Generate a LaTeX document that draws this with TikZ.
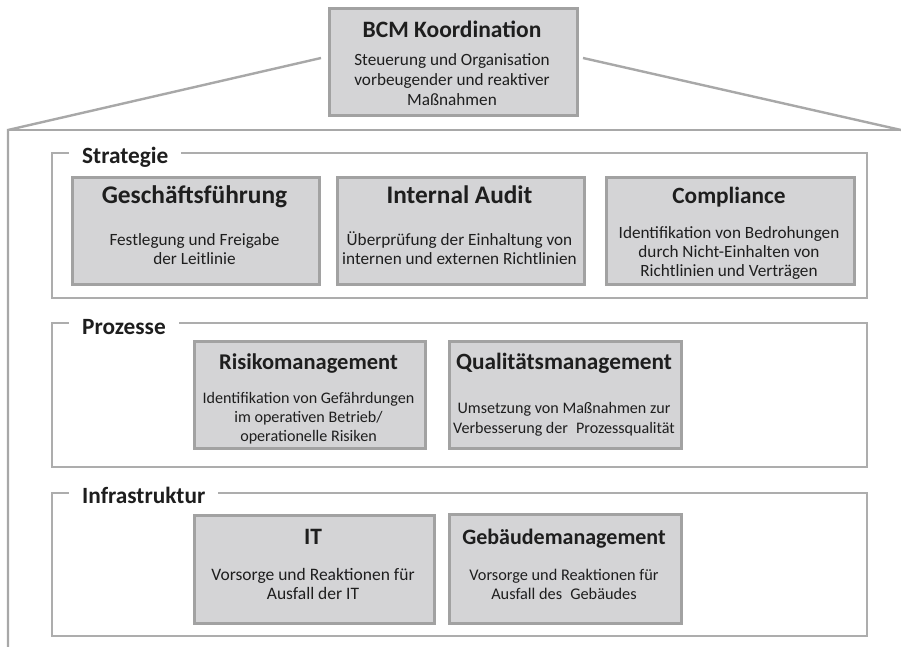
\documentclass[tikz,border=0pt]{standalone}
\usepackage{fontspec}
\setmainfont{Carlito}
\definecolor{boxfill}{HTML}{D4D4D6}
\definecolor{boxline}{HTML}{A2A2A2}
\definecolor{panelline}{HTML}{ADADAD}
\definecolor{houseline}{HTML}{A8A8A8}
\definecolor{txt}{HTML}{1E1E1E}
\newcommand{\tsz}[1]{\fontsize{#1}{29}\selectfont\bfseries}
\newcommand{\bsz}[2]{\fontsize{#1}{#2}\selectfont}
\begin{document}
\begin{tikzpicture}[x=1pt,y=-1pt,
  card/.style={draw=boxline, line width=2.6pt, fill=boxfill, inner sep=0pt, anchor=north west},
  panel/.style={draw=panelline, line width=2.2pt},
  house/.style={draw=houseline, line width=2.4pt},
  ttl/.style={font=\tsz{25}, text=txt, inner sep=0pt, anchor=base},
  body/.style={font=\bsz{17.2}{19}, text=txt, inner sep=0pt, anchor=base, align=center},
  plabel/.style={font=\tsz{23.3}, text=txt, fill=white, inner xsep=13pt, inner ysep=2pt, anchor=base west}
]
\useasboundingbox (0,0) rectangle (901,647);
\fill[white] (0,0) rectangle (901,647);

% house outline
\coordinate (hl) at (8,130);
\coordinate (hr) at (901,130);
\coordinate (hb) at (8,647);
\coordinate (dl) at (321,58);
\coordinate (dr) at (583,58);
\draw[house] (dl) -- (hl) -- (hb);
\draw[house] (hl) -- (hr);
\draw[house] (dr) -- (hr);

% top box
\node[card, minimum width=248pt, minimum height=107pt] (bcm) at (328,7) {};
\node[ttl, font=\tsz{23.5}] (bcmt) at (452,38) {BCM Koordination};
\node[body, font=\bsz{17.2}{20}] (bcmb) at (452,106) {Steuerung und Organisation\\vorbeugender und reaktiver\\Maßnahmen};

% panels
\draw[panel] (52,153) rectangle (867,298);
\draw[panel] (52,323) rectangle (867,467);
\draw[panel] (52,493) rectangle (867,636);
\node[plabel] (pstrat) at (69,164) {Strategie};
\node[plabel] (pproz) at (69,334) {Prozesse};
\node[plabel] (pinfra) at (69,503) {Infrastruktur};

% Strategie
\node[card, minimum width=247pt, minimum height=107pt] (gf) at (71,176) {};
\node[ttl, font=\tsz{25.4}] (gft) at (194.5,203) {Geschäftsführung};
\node[body] (gfb) at (194.5,264) {Festlegung und Freigabe\\der Leitlinie};

\node[card, minimum width=247pt, minimum height=107pt] (ia) at (336,176) {};
\node[ttl, font=\tsz{25.3}] (iat) at (459.5,203) {Internal Audit};
\node[body] (iab) at (459.5,264) {Überprüfung der Einhaltung von\\internen und externen Richtlinien};

\node[card, minimum width=248pt, minimum height=107pt] (co) at (605,176) {};
\node[ttl, font=\tsz{23.3}] (cot) at (729,203) {Compliance};
\node[body] (cob) at (729,276) {Identifikation von Bedrohungen\\durch Nicht-Einhalten von\\Richtlinien und Verträgen};

% Prozesse
\node[card, minimum width=231pt, minimum height=107pt] (rm) at (193,340) {};
\node[ttl, font=\tsz{22.5}] (rmt) at (308.5,369) {Risikomanagement};
\node[body, font=\bsz{16.1}{19}] (rmb) at (308.5,441) {Identifikation von Gefährdungen\\im operativen Betrieb/\\operationelle Risiken};

\node[card, minimum width=232pt, minimum height=107pt] (qm) at (448,340) {};
\node[ttl, font=\tsz{23.3}] (qmt) at (564,369) {Qualitätsmanagement};
\node[body, font=\bsz{16.1}{20}] (qmb) at (564,433) {Umsetzung von Maßnahmen zur\\Verbesserung der\enspace Prozessqualität};

% Infrastruktur
\node[card, minimum width=240pt, minimum height=108pt] (it) at (193,514) {};
\node[ttl, font=\tsz{23.5}] (itt) at (313,544) {IT};
\node[body, font=\bsz{17.5}{19}] (itb) at (313,599) {Vorsorge und Reaktionen für\\Ausfall der IT};

\node[card, minimum width=232pt, minimum height=109pt] (gm) at (448,513) {};
\node[ttl, font=\tsz{22}] (gmt) at (564,544) {Gebäudemanagement};
\node[body, font=\bsz{16.3}{19}] (gmb) at (564,599) {Vorsorge und Reaktionen für\\Ausfall des\enspace Gebäudes};
\end{tikzpicture}
\end{document}
